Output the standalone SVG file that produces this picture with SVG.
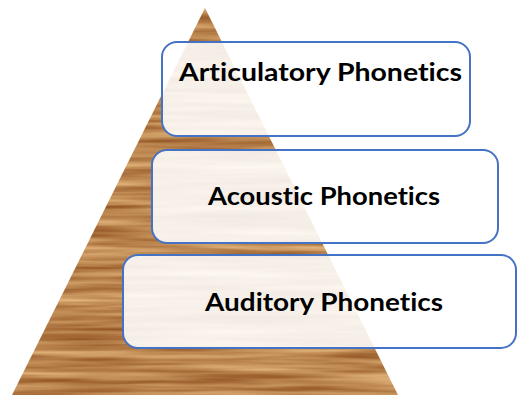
<svg xmlns="http://www.w3.org/2000/svg" width="517" height="396" viewBox="0 0 517 396">
<style>
.box{fill:#ffffff;fill-opacity:0.88;stroke:#4472C4;stroke-width:2}
.lbl{font-family:Lato,"Liberation Sans",sans-serif;font-weight:bold;font-size:24px;fill:#000;text-anchor:middle;font-variant-ligatures:none;font-feature-settings:"liga" 0}
</style>
<defs>
<filter id="wood" x="0" y="0" width="1" height="1" color-interpolation-filters="sRGB">
<feTurbulence type="fractalNoise" baseFrequency="0.006 0.13" numOctaves="3" seed="7" result="n"/>
<feColorMatrix in="n" type="matrix" values="0.525 0 0 0 0.4725  0.625 0 0 0 0.2125  0.575 0 0 0 0.0275  0 0 0 0 1" result="c"/>
<feComposite in="c" in2="SourceGraphic" operator="in"/>
</filter>
</defs>
<g id="pyramid">
<polygon points="205,8 398,395 12,395" fill="#c89558" filter="url(#wood)"/>
</g>
<g id="connectors"></g>
<g id="node-articulatory">
<rect class="box" x="162" y="42" width="308" height="94" rx="15"/>
<text class="lbl" x="320.5" y="81" textLength="283" lengthAdjust="spacingAndGlyphs">Articulatory Phonetics</text>
</g>
<g id="node-acoustic">
<rect class="box" x="152" y="150" width="346" height="93" rx="15"/>
<text class="lbl" x="324" y="205" textLength="232" lengthAdjust="spacingAndGlyphs">Acoustic Phonetics</text>
</g>
<g id="node-auditory">
<rect class="box" x="123" y="255" width="393" height="93" rx="15"/>
<text class="lbl" x="324" y="311" textLength="238" lengthAdjust="spacingAndGlyphs">Auditory Phonetics</text>
</g>
</svg>
